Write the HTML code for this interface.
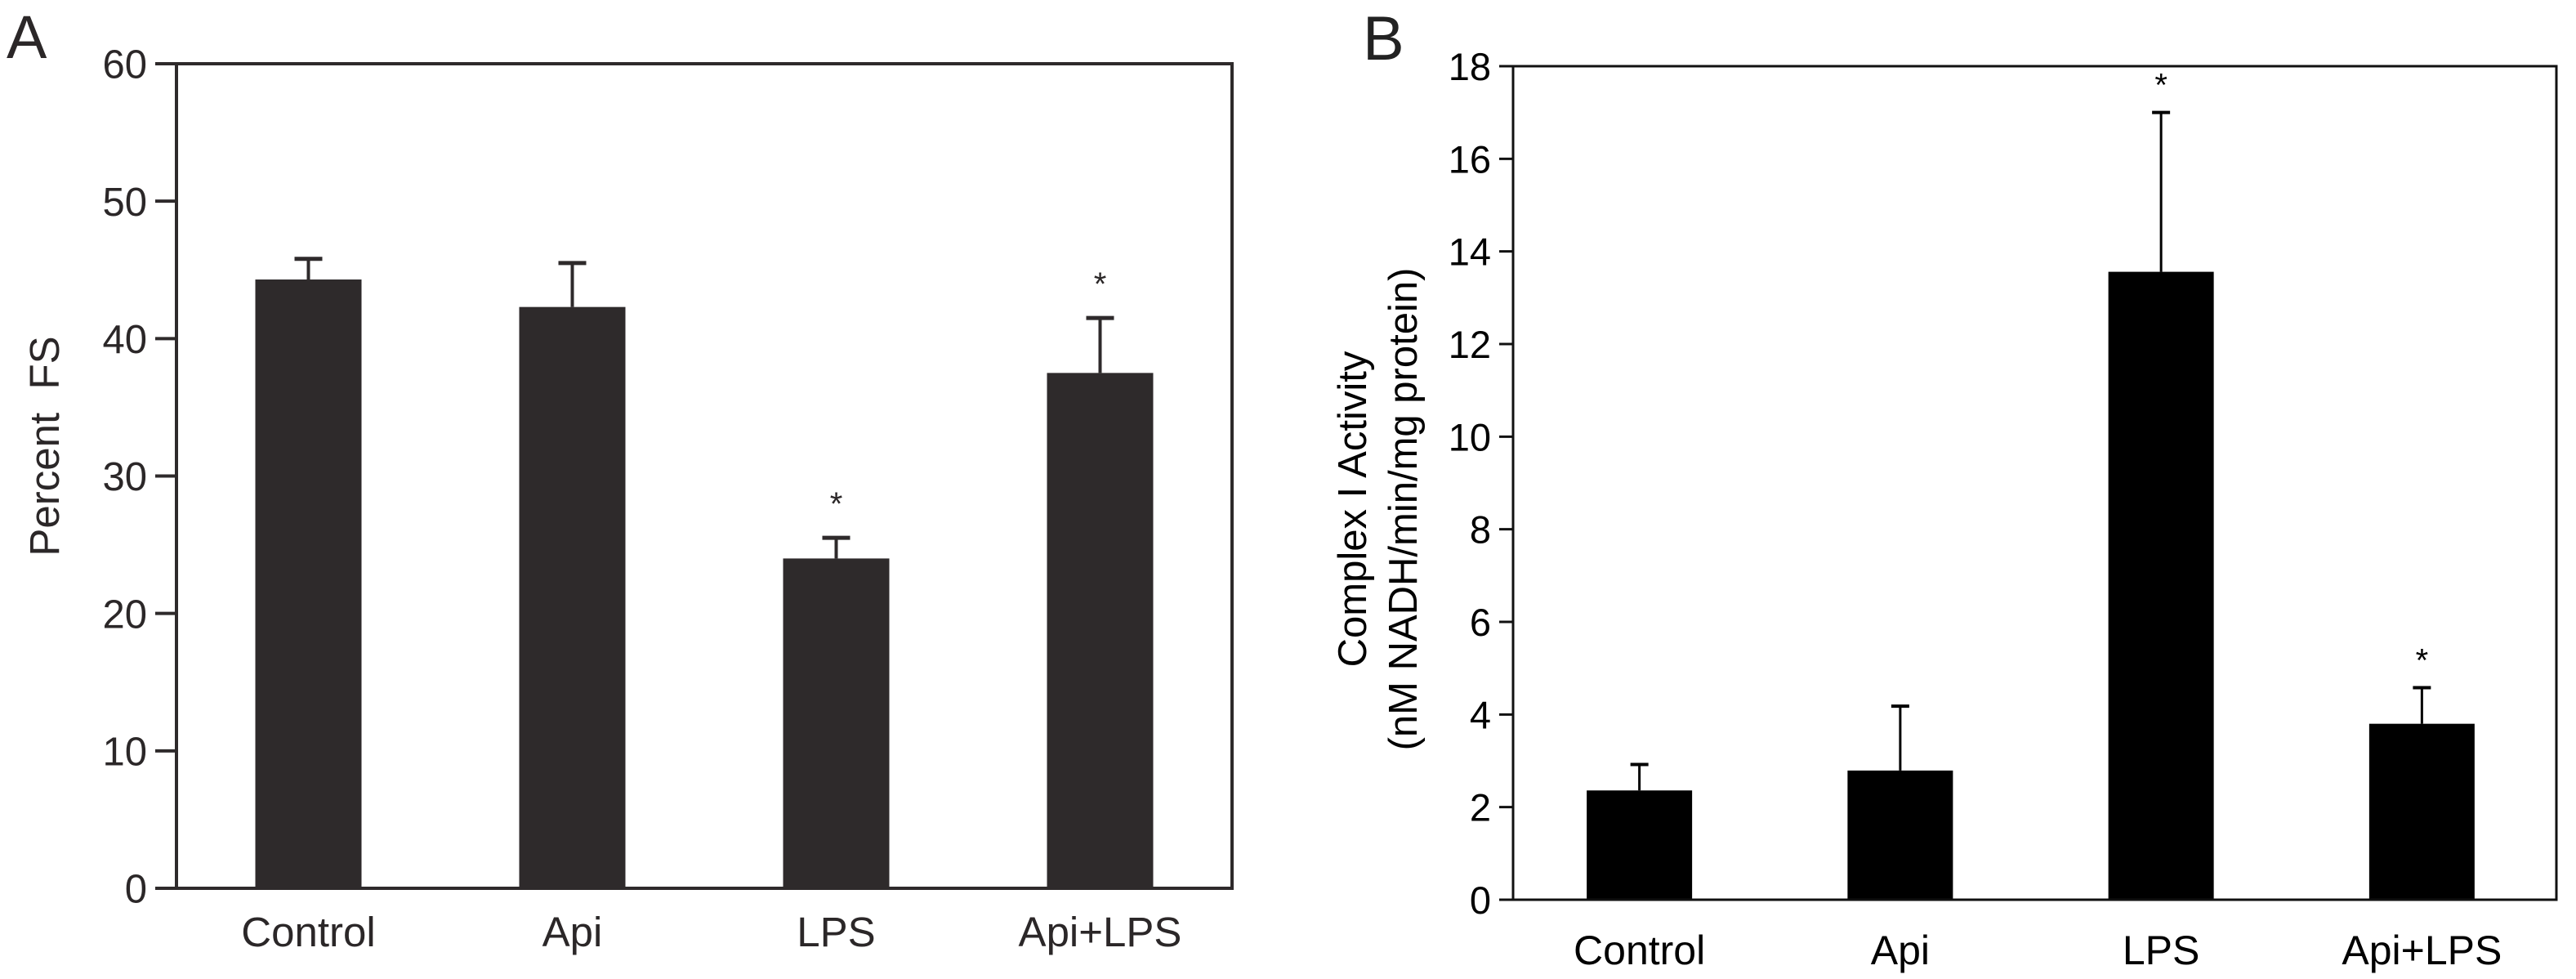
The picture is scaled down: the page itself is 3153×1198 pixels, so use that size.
<!DOCTYPE html>
<html><head><meta charset="utf-8"><style>
html,body{margin:0;padding:0;background:#fff;}
svg{display:block;font-family:"Liberation Sans",Arial,sans-serif;}
</style></head><body>
<svg id="fig" width="3153" height="1198" viewBox="0 0 3153 1198" xmlns="http://www.w3.org/2000/svg">
<text x="8" y="71" font-size="74" fill="#2b2728">A</text>
<text x="1668" y="73" font-size="76" fill="#222">B</text>
<text transform="translate(72,546) rotate(-90)" text-anchor="middle" font-size="51" fill="#2b2728" xml:space="preserve">Percent  FS</text>
<text transform="translate(1672,623) rotate(-90)" text-anchor="middle" font-size="49" fill="#000">Complex I Activity</text>
<text transform="translate(1734,623) rotate(-90)" text-anchor="middle" font-size="49" fill="#000">(nM NADH/min/mg protein)</text>
<g id="ga"></g>
<g id="gb"></g>
</svg>
<script>
const categories = ["Control", "Api", "LPS", "Api+LPS"];
const fsValues = [44.3, 42.3, 24.0, 37.5];
const fsErrors = [45.8, 45.5, 25.5, 41.5];
const fsStars = [false, false, true, true];
const fsTicks = [0, 10, 20, 30, 40, 50, 60];
const c1Values = [2.36, 2.79, 13.56, 3.8];
const c1Errors = [2.92, 4.18, 17.0, 4.58];
const c1Stars = [false, false, true, true];
const c1Ticks = [0, 2, 4, 6, 8, 10, 12, 14, 16, 18];

const NS = "http://www.w3.org/2000/svg";
function mk(parent, tag, attrs, text) {
  const e = document.createElementNS(NS, tag);
  for (const k in attrs) e.setAttribute(k, attrs[k]);
  if (text !== undefined) e.textContent = text;
  parent.appendChild(e);
  return e;
}

function drawPanel(g, cfg, values, errors, stars, ticks, prefix) {
  const yScale = v => cfg.y0 - (v - cfg.min) / (cfg.max - cfg.min) * (cfg.y0 - cfg.yTop);
  const band = (cfg.right - cfg.left) / categories.length;
  const xCenter = i => cfg.left + band * (i + 0.5) + cfg.shift;

  values.forEach((v, i) => {
    const cx = xCenter(i);
    const r = mk(g, "rect", {x: cx - cfg.barW / 2, y: yScale(v), width: cfg.barW, height: cfg.y0 - yScale(v), fill: cfg.barColor});
    
    
    const el = mk(g, "line", {x1: cx, x2: cx, y1: yScale(v), y2: yScale(errors[i]), stroke: cfg.barColor, "stroke-width": cfg.ew});
    
    
    const cap = mk(g, "line", {x1: cx - cfg.capW / 2, x2: cx + cfg.capW / 2, y1: yScale(errors[i]), y2: yScale(errors[i]), stroke: cfg.barColor, "stroke-width": cfg.ew + 1});
    
    
    if (stars[i]) {
      const s = mk(g, "text", {x: cx, y: yScale(errors[i]) - cfg.starGap, "text-anchor": "middle", "font-size": 40, fill: cfg.textColor}, "*");
      
      
    }
    const lab = mk(g, "text", {x: cx, y: cfg.labelY, "text-anchor": "middle", "font-size": cfg.labelFont, fill: cfg.textColor}, categories[i]);
    
    
  });

  ticks.forEach(t => {
    const y = yScale(t);
    const tl = mk(g, "line", {x1: cfg.left - cfg.tickLen, x2: cfg.left, y1: y, y2: y, stroke: cfg.axisColor, "stroke-width": cfg.aw});
    
    
    const tx = mk(g, "text", {x: cfg.left - cfg.tickLen - 10, y: y + cfg.tickFont * 0.36, "text-anchor": "end", "font-size": cfg.tickFont, fill: cfg.textColor}, String(t));
    
    
  });

  const fr = mk(g, "rect", {x: cfg.left, y: cfg.yTop, width: cfg.right - cfg.left, height: cfg.y0 - cfg.yTop, fill: "none", stroke: cfg.axisColor, "stroke-width": cfg.aw});
  
  
}

drawPanel(document.getElementById("ga"), {
  left: 216, right: 1508, yTop: 78, y0: 1087, min: 0, max: 60, shift: 0,
  barW: 130, capW: 34, ew: 4, aw: 4, tickLen: 26, tickFont: 49, labelFont: 51, labelY: 1158,
  barColor: "#2e2a2b", axisColor: "#2e2a2b", textColor: "#2b2728", starGap: 28
}, fsValues, fsErrors, fsStars, fsTicks, "panel-a");

drawPanel(document.getElementById("gb"), {
  left: 1852, right: 3129, yTop: 81, y0: 1101, min: 0, max: 18, shift: -5,
  barW: 129, capW: 22, ew: 3, aw: 3, tickLen: 17, tickFont: 47, labelFont: 50, labelY: 1180,
  barColor: "#000", axisColor: "#111", textColor: "#000", starGap: 20
}, c1Values, c1Errors, c1Stars, c1Ticks, "panel-b");
</script>
</body></html>
